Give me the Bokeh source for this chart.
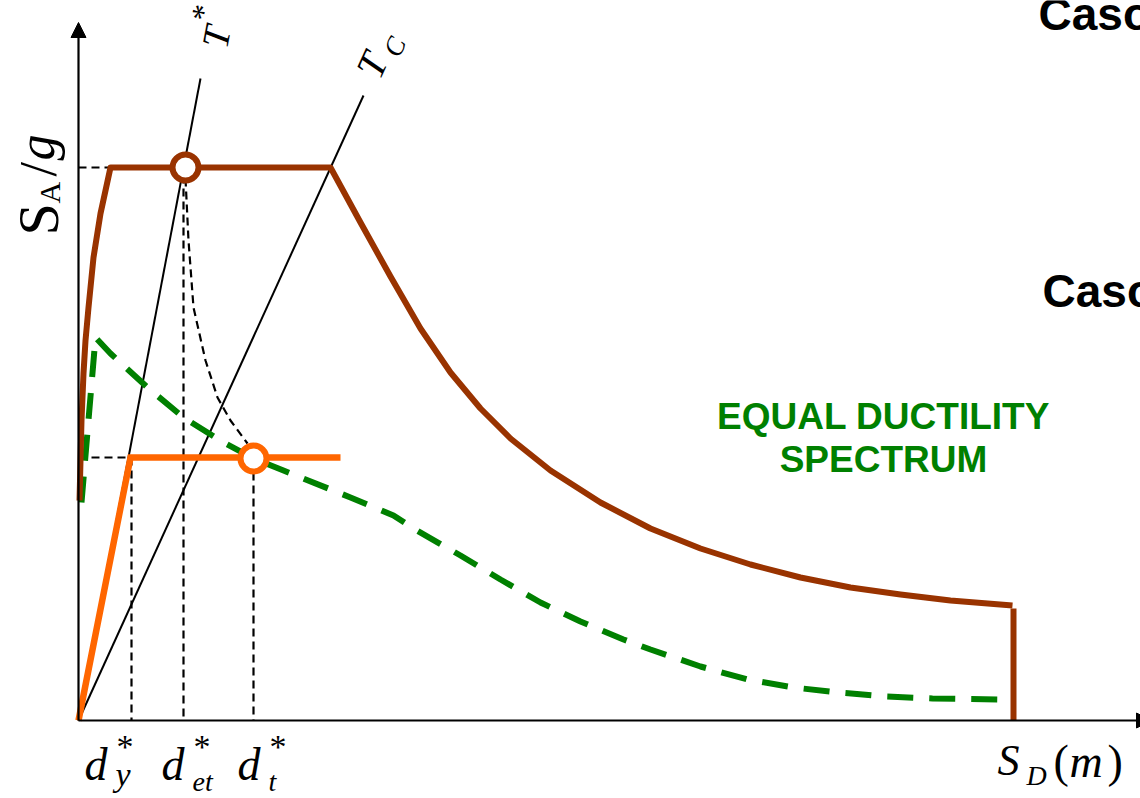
import math
from bokeh.plotting import figure
from bokeh.models import Range1d, Arrow, NormalHead
from bokeh.core.properties import value
from bokeh.embed import file_html
from bokeh.resources import INLINE

# ADRS diagram units: sd = spectral displacement, sa = spectral acceleration (schematic units)

# elastic demand spectrum (rising branch, plateau, constant-velocity branch)
elastic_sd = [1, 2, 3, 5, 7, 10, 15, 22, 32, 252, 282, 312, 342, 372, 402, 432, 472, 522,
              572, 622, 672, 722, 772, 822, 872, 934]
elastic_sa = [220, 260, 300, 347, 380, 413, 463, 507, 553, 553, 498, 444, 392, 348, 312, 282,
              250, 218, 192, 172, 156, 143, 133, 126, 120, 115]
# cut-off at the maximum displacement
cutoff_sd = [935, 935]
cutoff_sa = [112, 0]

# equal ductility (inelastic) spectrum
ductile_sd = [3, 17, 32, 69, 105, 145, 175, 205, 272, 315, 335, 382, 422, 462, 502, 545,
              572, 622, 669, 715, 760, 807, 854, 922]
ductile_sa = [218, 383, 367, 333, 303, 278, 262, 250, 223, 205, 192, 165, 141, 118, 99, 81,
              71, 54, 41, 33, 28, 24, 22, 21]

# bilinear capacity curve of the equivalent SDOF system
capacity_sd = [0, 52, 262]
capacity_sa = [0, 263, 263]

# radial period lines
tstar_sd = [0, 122]
tstar_sa = [0, 642]
tc_sd = [0, 285]
tc_sa = [0, 625]

# performance points
elastic_point = (107, 553)
target_point = (175, 262)

# reduction path between the two performance points
reduction_sd = [107, 110, 115, 127, 139, 152, 169]
reduction_sa = [542, 480, 413, 360, 323, 300, 277]

# reference levels and displacements
sa_plateau = 553
sa_yield = 263
dy_star = 53
det_star = 105
dt_star = 175

BROWN = "#993300"
ORANGE = "#FF6600"
GREEN = "#008000"
SERIF = value("Liberation Serif")
SANS = value("Liberation Sans")

p = figure(width=1140, height=798, x_range=Range1d(-78, 1062), y_range=Range1d(-78, 720),
           output_backend="svg", toolbar_location=None, x_axis_type=None, y_axis_type=None,
           min_border=0, outline_line_color=None, background_fill_color="white",
           border_fill_color="white")
p.grid.visible = False

# axes with arrow heads
p.add_layout(Arrow(end=NormalHead(size=15, line_color="black", fill_color="black"),
                   x_start=0, y_start=0, x_end=0, y_end=698, line_width=2.2, line_color="black"))
p.add_layout(Arrow(end=NormalHead(size=15, line_color="black", fill_color="black"),
                   x_start=0, y_start=0, x_end=1073, y_end=0, line_width=2.2, line_color="black"))

# period lines
p.line(tstar_sd, tstar_sa, line_color="black", line_width=2)
p.line(tc_sd, tc_sa, line_color="black", line_width=2)

# dashed construction lines
dash = "8 5"
p.line([0, 37], [sa_plateau, sa_plateau], line_color="black", line_width=2.2, line_dash=dash)
p.line([det_star, det_star], [545, 0], line_color="black", line_width=2.2, line_dash=dash)
p.line(reduction_sd, reduction_sa, line_color="black", line_width=2.2, line_dash=dash)
p.line([0, dy_star], [sa_yield, sa_yield], line_color="black", line_width=2.2, line_dash=dash)
p.line([dy_star, dy_star], [sa_yield, 0], line_color="black", line_width=2.2, line_dash=dash)
p.line([dt_star, dt_star], [248, 0], line_color="black", line_width=2.2, line_dash=dash)

# spectra and capacity curve
p.line(ductile_sd, ductile_sa, line_color=GREEN, line_width=6, line_dash="26 16")
p.line(elastic_sd, elastic_sa, line_color=BROWN, line_width=6, line_join="round")
p.line(cutoff_sd, cutoff_sa, line_color=BROWN, line_width=6)
p.line(capacity_sd, capacity_sa, line_color=ORANGE, line_width=6.5, line_join="miter")

p.scatter([elastic_point[0]], [elastic_point[1]], size=26, marker="circle",
          fill_color="white", line_color=BROWN, line_width=6)
p.scatter([target_point[0]], [target_point[1]], size=26, marker="circle",
          fill_color="white", line_color=ORANGE, line_width=6)


def label(x, y, txt, size, font=SERIF, style="italic", angle=0.0, color="black", align="left"):
    # (x, y) is the baseline origin; shift so the alphabetic baseline lands there
    s = 0.3 * size
    x2 = x - math.sin(angle) * s
    y2 = y + math.cos(angle) * s
    p.text([x2], [y2], text=[txt], text_font=font, text_font_size=f"{size}px",
           text_font_style=style, angle=angle, text_color=color,
           text_align=align, text_baseline="alphabetic")


# period line labels
a_t = math.atan2(tstar_sa[1], tstar_sd[1])
a_c = math.atan2(tc_sa[1], tc_sd[1])
label(147, 671, "T", 38, angle=a_t)
label(132, 698, "*", 32, style="normal", angle=a_t)
label(300, 640, "T", 40, angle=a_c)
label(320, 662, "C", 27, angle=a_c)

# vertical axis label
up = math.pi / 2
label(-23, 485, "S", 58, style="normal", angle=up)
label(-20, 517, "A", 30, style="normal", angle=up)
label(-24, 544, "/", 52, style="normal", angle=up)
label(-26, 560, "g", 52, angle=up)

# displacement labels
for dx, sub, sub_dy, sub_size in [(6, "y", -64, 34), (83, "et", -69, 28), (159, "t", -69, 28)]:
    label(dx, -58, "d", 46)
    label(dx + 32, -36, "*", 34, style="normal")
    label(dx + 31, sub_dy, sub, sub_size)

# horizontal axis label
label(919, -53, "S", 44)
label(948, -63, "D", 28)
label(975, -55, "(", 46, style="normal")
label(991, -55, "m", 46)
label(1029, -55, ")", 46, style="normal")

# case headers
label(960, 693, "Caso", 46, font=SANS, style="bold")
label(964, 416, "Caso", 46, font=SANS, style="bold")

# spectrum annotation
label(805, 293, "EQUAL DUCTILITY", 37, font=SANS, style="bold", color=GREEN, align="center")
label(805, 250, "SPECTRUM", 37, font=SANS, style="bold", color=GREEN, align="center")

open("out.html", "w").write(file_html(p, INLINE))
